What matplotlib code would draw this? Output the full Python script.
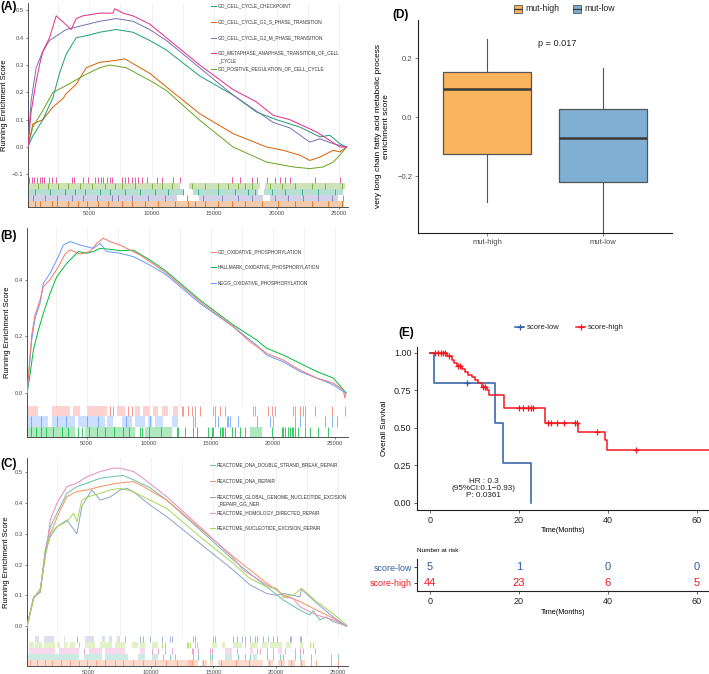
import matplotlib
matplotlib.use("Agg")
import matplotlib.pyplot as plt
from matplotlib.patches import Rectangle
from matplotlib.lines import Line2D

plt.rcParams['font.family'] = ['Liberation Sans', 'DejaVu Sans']

# ------------------------- DATA -------------------------
# Panel A : running enrichment scores (rank, ES)
a_checkpoint_x = [107, 507, 1308, 2109, 2643, 3177, 3978, 5046, 5847, 7182, 8517, 9852, 11187, 13857, 16527, 18396, 19998, 21867, 23469, 24270, 25071, 25605]
a_checkpoint_y = [0.0, 0.04, 0.10, 0.18, 0.27, 0.34, 0.40, 0.41, 0.42, 0.43, 0.42, 0.39, 0.355, 0.26, 0.19, 0.128, 0.10, 0.073, 0.037, 0.043, 0.012, 0.0]
a_g1s_x = [107, 507, 1308, 2109, 2910, 3177, 3978, 4779, 5847, 7182, 7850, 8517, 9852, 11187, 13857, 16527, 19197, 20532, 21867, 22668, 23469, 24537, 25071, 25605]
a_g1s_y = [0.0, 0.085, 0.10, 0.146, 0.177, 0.195, 0.23, 0.29, 0.31, 0.317, 0.323, 0.305, 0.27, 0.22, 0.122, 0.049, 0.0, -0.012, -0.03, -0.049, -0.037, -0.012, -0.018, 0.0]
a_g2m_x = [107, 374, 774, 1308, 1842, 3177, 4512, 5847, 7182, 8517, 9852, 11187, 13857, 16527, 19731, 21066, 22668, 23469, 24537, 25605]
a_g2m_y = [0.0, 0.17, 0.29, 0.35, 0.39, 0.43, 0.445, 0.46, 0.47, 0.46, 0.43, 0.39, 0.29, 0.19, 0.09, 0.07, 0.018, 0.03, 0.012, 0.0]
a_metaphase_x = [107, 374, 774, 1041, 1308, 1842, 2376, 3578, 3978, 4512, 5847, 6916, 7049, 7716, 8517, 9852, 11188, 13858, 16528, 18398, 19733, 21068, 23204, 25073, 25607]
a_metaphase_y = [0.0, 0.13, 0.24, 0.30, 0.35, 0.40, 0.48, 0.43, 0.47, 0.48, 0.49, 0.49, 0.506, 0.49, 0.48, 0.45, 0.40, 0.30, 0.21, 0.165, 0.116, 0.10, 0.055, 0.0, 0.0]
a_positive_x = [107, 507, 1308, 2109, 3177, 4512, 5847, 6648, 7983, 9852, 11187, 13857, 16527, 19197, 21333, 22668, 23736, 24537, 25071, 25605]
a_positive_y = [0.0, 0.073, 0.134, 0.20, 0.225, 0.26, 0.29, 0.30, 0.29, 0.244, 0.207, 0.098, 0.0, -0.055, -0.073, -0.079, -0.073, -0.055, -0.03, 0.0]

# Panel A : hit positions (dense blocks and single hits)
a_metaphase_hits = [200, 413, 600, 813, 1080, 1267, 1427, 1800, 2014, 2360, 3614, 3827, 4547, 4947, 5480, 5747, 5961, 6147, 6414, 6681, 6814, 7614, 7881, 8147, 8414, 8681, 8894, 9214, 9614, 10414, 10814, 11721, 12255, 16414, 17080, 18014, 18414, 19214, 19881, 20281, 20681, 21081, 23081, 25082]
a_positive_spans = [(150, 12300), (13000, 18700), (19100, 25500)]
a_positive_hits = [947, 1747, 2547, 3347, 4280, 5214, 6281, 7081, 7614, 8681, 10014, 10814, 11614, 13213, 14280, 15347, 16147, 16947, 17480, 18014, 19481, 20414, 21481, 22815, 23881, 25215]
a_checkpoint_spans = [(150, 12600), (13300, 18500), (19000, 25300)]
a_checkpoint_hits = [680, 1880, 3080, 3880, 4680, 5881, 6681, 7881, 9081, 10281, 11348, 12548, 13747, 15347, 16681, 17747, 18281, 19614, 20681, 22015, 23348, 24682]
a_g2m_spans = [(150, 12000), (13800, 18900), (19500, 24900)]
a_g2m_hits = [547, 1480, 2414, 3614, 4547, 5614, 6814, 7347, 8414, 9748, 11081, 12800, 14147, 15614, 16947, 18014, 19881, 20948, 22148, 23348, 24415, 25300]
a_g1s_spans = [(150, 25400)]
a_g1s_hits = [147, 680, 1080, 2014, 2414, 3347, 4147, 4814, 5747, 6547, 7614, 8414, 9481, 10548, 11881, 12948, 13480, 14280, 15347, 16414, 17480, 18814, 20148, 21481, 22815, 24148, 25215]

# Panel B : running enrichment scores
b_go_x = [200, 569, 837, 1238, 1507, 2044, 2715, 3251, 3654, 4459, 5264, 5800, 6337, 6874, 7679, 8484, 9289, 10094, 11436, 14119, 16803, 18144, 19485, 20827, 22168, 23510, 24851, 25656, 25790, 25850]
b_go_y = [0.0, 0.205, 0.275, 0.328, 0.375, 0.40, 0.445, 0.49, 0.505, 0.49, 0.499, 0.528, 0.546, 0.534, 0.522, 0.504, 0.487, 0.463, 0.422, 0.322, 0.234, 0.181, 0.14, 0.116, 0.081, 0.053, 0.035, 0.011, -0.018, 0.0]
b_hallmark_x = [200, 450, 703, 1105, 1507, 2044, 2581, 3385, 4324, 4995, 5532, 6069, 6874, 7679, 8753, 10094, 11436, 14119, 16803, 18680, 19485, 20827, 22168, 23510, 24851, 25900]
b_hallmark_y = [0.0, 0.07, 0.152, 0.222, 0.281, 0.351, 0.41, 0.457, 0.499, 0.493, 0.499, 0.51, 0.507, 0.502, 0.504, 0.469, 0.428, 0.328, 0.240, 0.187, 0.158, 0.134, 0.105, 0.076, 0.053, 0.0]
b_kegg_x = [200, 569, 837, 1238, 1507, 2044, 2313, 2715, 3117, 3654, 4459, 4995, 5532, 6069, 6606, 7679, 8753, 10094, 11436, 14119, 16803, 18680, 19485, 20827, 22168, 23510, 24851, 25850]
b_kegg_y = [0.0, 0.187, 0.263, 0.316, 0.387, 0.422, 0.446, 0.481, 0.522, 0.534, 0.522, 0.516, 0.51, 0.528, 0.499, 0.493, 0.481, 0.451, 0.416, 0.316, 0.234, 0.169, 0.134, 0.11, 0.076, 0.053, 0.029, 0.0]

b_go_spans = [(250, 1105), (2180, 3654), (3922, 4459), (4996, 6605), (7410, 8081), (8886, 9288), (9557, 10093), (10362, 10764), (11032, 11569), (11971, 12374)]
b_go_hits = [6900, 7140, 8350, 8620, 12642, 12776, 13180, 13449, 13717, 14120, 15193, 15327, 15729, 16132, 18412, 18546, 19620, 19888, 20156, 21632, 21766, 22168, 22437, 22571, 23376, 24717, 25790]
b_kegg_spans = [(100, 1910), (2178, 4056), (4325, 6471), (6605, 7142), (7813, 8618), (8886, 9691), (9959, 10228), (10496, 11166), (11837, 12374)]
b_kegg_hits = [500, 1300, 2600, 3300, 5000, 5900, 8200, 10100, 13583, 13717, 15327, 15595, 16266, 16400, 16535, 17205, 18680, 19754, 20022, 21766, 22168, 22571, 24180, 24717, 25120]
b_hallmark_spans = [(166, 4056), (4861, 8886), (9691, 11837), (18144, 19083)]
b_hallmark_hits = [500, 900, 1300, 1700, 2300, 3000, 3500, 4325, 4593, 5200, 5800, 6500, 7200, 7900, 8400, 9288, 9422, 10000, 11000, 12240, 12374, 12910, 13583, 13851, 14790, 15059, 15193, 15729, 15863, 15998, 16132, 16668, 16937, 17339, 17742, 19888, 20693, 20827, 20961, 21229, 21363, 21497, 21632, 21766, 22034, 22571, 22973, 23644, 24449]

# Panel C : running enrichment scores
c_dsb_x = [70, 603, 1136, 1536, 1936, 2736, 3270, 4070, 4870, 5937, 7003, 7803, 8603, 9937, 11270, 13938, 16605, 19272, 20605, 21939, 22739, 23006, 23539, 24072, 24606, 25139, 25673]
c_dsb_y = [0.0, 0.095, 0.11, 0.248, 0.323, 0.389, 0.432, 0.454, 0.465, 0.481, 0.487, 0.49, 0.476, 0.45, 0.41, 0.313, 0.215, 0.128, 0.085, 0.052, 0.036, 0.05, 0.02, 0.03, 0.014, 0.008, 0.0]
c_dna_x = [70, 603, 1136, 1536, 1936, 2736, 3270, 4070, 4870, 5937, 7270, 8603, 9403, 11270, 13938, 16605, 19272, 20605, 21939, 23272, 24606, 25673]
c_dna_y = [0.0, 0.09, 0.12, 0.237, 0.302, 0.378, 0.421, 0.438, 0.443, 0.454, 0.465, 0.47, 0.454, 0.41, 0.318, 0.226, 0.14, 0.102, 0.080, 0.052, 0.026, 0.0]
c_ggner_x = [70, 603, 1136, 1536, 1936, 2469, 3270, 4070, 4470, 5270, 5937, 6737, 7537, 8070, 8603, 9937, 11270, 13938, 16605, 17938, 19272, 20072, 20605, 21405, 21939, 22072, 23272, 24606, 25139, 25673]
c_ggner_y = [0.0, 0.09, 0.12, 0.24, 0.291, 0.323, 0.345, 0.30, 0.39, 0.443, 0.41, 0.42, 0.443, 0.448, 0.437, 0.394, 0.356, 0.269, 0.182, 0.134, 0.106, 0.10, 0.106, 0.10, 0.095, 0.12, 0.075, 0.03, 0.015, 0.0]
c_homology_x = [70, 603, 1136, 1536, 1936, 2469, 3270, 4070, 4870, 5937, 7003, 7537, 8603, 9403, 11270, 13938, 16605, 17405, 19272, 20072, 20605, 21405, 21939, 23272, 24606, 25139, 25673]
c_homology_y = [-0.007, 0.095, 0.11, 0.226, 0.345, 0.40, 0.454, 0.465, 0.486, 0.503, 0.514, 0.514, 0.503, 0.48, 0.421, 0.323, 0.221, 0.182, 0.134, 0.12, 0.095, 0.09, 0.063, 0.036, 0.02, 0.01, 0.0]
c_ner_x = [70, 603, 1136, 1536, 1936, 2469, 3270, 3803, 4070, 4470, 5003, 5937, 6737, 7537, 8070, 8603, 9937, 11270, 13938, 16605, 17938, 19272, 20072, 20605, 21405, 22072, 23272, 24606, 25806]
c_ner_y = [0.0, 0.09, 0.12, 0.226, 0.302, 0.323, 0.34, 0.367, 0.34, 0.41, 0.421, 0.432, 0.443, 0.448, 0.443, 0.437, 0.41, 0.383, 0.291, 0.204, 0.155, 0.128, 0.123, 0.095, 0.10, 0.123, 0.08, 0.04, 0.0]

c_ggner_spans = [(736, 1003), (1403, 2203), (3003, 3136), (4736, 5403), (6070, 6337), (6604, 6870), (7270, 7537)]
c_ggner_hits = [4070, 7937, 9137, 9403, 9937, 10870, 11537, 11670, 13403, 13536, 15003, 15136, 16603, 16870, 17270, 17537, 17937, 18337, 18470, 19003, 19403, 19803, 20070, 21137, 21270, 21937, 22070]
c_ner_spans = [(203, 603), (736, 1270), (1403, 2336), (2470, 2736), (3003, 3270), (3536, 3937), (4736, 5537), (5937, 6870), (7137, 7937), (8470, 9004), (9137, 9537), (10070, 10604), (14870, 15270), (15670, 15936), (16603, 17270), (17937, 18470), (18870, 19403), (19537, 20470), (20870, 21270), (21937, 22204)]
c_ner_hits = [4203, 10870, 11137, 12869, 13004, 13136, 13536, 13669, 17537, 22737, 23004]
c_homology_spans = [(203, 2336), (2603, 4203), (5003, 6070), (6337, 7937), (9137, 9537), (15936, 16470), (17937, 18204), (20204, 20470)]
c_homology_hits = [4603, 10070, 10604, 11137, 11670, 13269, 13403, 13803, 14736, 14870, 16870, 18470, 18737, 19270, 19803, 20737, 21537, 21937, 22204, 23137]
c_dsb_spans = [(70, 4203), (4603, 6070), (6337, 8204), (9004, 9537), (10070, 10604), (15936, 16470), (18204, 18470)]
c_dsb_hits = [11004, 11537, 11937, 13403, 13803, 14736, 14870, 17003, 17537, 17937, 19270, 19803, 20337, 20604, 21537, 21937, 22870, 24471, 25004]
c_dna_spans = [(70, 13270), (13003, 13803), (14070, 14470), (14736, 15003), (15403, 19003), (19403, 19803), (20204, 20737), (21004, 21537), (21937, 22337)]
c_dna_hits = [300, 900, 1500, 2100, 2800, 3500, 4200, 4900, 5600, 6300, 7100, 7800, 8600, 9400, 10300, 11200, 12100, 13300, 14200, 15600, 16800, 17900, 19500, 20400, 21200, 22000, 22870, 23270, 24471, 25004]

# Panel D : boxplot statistics
d_groups = ["mut-high", "mut-low"]
d_whislo = [-0.288, -0.40]
d_q1 = [-0.125, -0.22]
d_median = [0.095, -0.071]
d_q3 = [0.153, 0.027]
d_whishi = [0.264, 0.166]
d_pvalue = "p = 0.017"

# Panel E : Kaplan-Meier
e_low_times = [0, 0.9, 14.6, 16.4, 22.7]
e_low_surv = [1.0, 0.8, 0.533, 0.267, 0.0]
e_low_censor = [8.3]
e_high_times = [0, 3.9, 4.9, 5.3, 6.0, 7.1, 7.9, 8.6, 9.5, 10.1, 10.9, 11.6, 12.7, 13.3, 16.6, 25.8, 33.3, 39.3, 39.7, 63.0]
e_high_surv = [1.0, 0.977, 0.955, 0.93, 0.91, 0.89, 0.87, 0.85, 0.84, 0.82, 0.80, 0.77, 0.75, 0.72, 0.634, 0.531, 0.475, 0.42, 0.356, 0.356]
e_high_censor = [1.1, 1.9, 2.4, 2.9, 3.3, 4.3, 6.2, 6.7, 12.0, 12.4, 20.1, 21.0, 22.1, 22.8, 23.2, 26.6, 27.3, 28.5, 30.1, 32.6, 33.0, 37.6, 46.3]
e_risk_times = [0, 20, 40, 60]
e_risk_low = [5, 1, 0, 0]
e_risk_high = [44, 23, 6, 5]
e_hr_text = ["HR : 0.3", "(95%CI:0.1\u22120.93)", "P: 0.0361"]

# ------------------------- FIGURE -------------------------
W, H = 709, 674
fig = plt.figure(figsize=(W / 100, H / 100), dpi=100)


def axes_px(l, t, r, b):
    return fig.add_axes([l / W, 1 - b / H, (r - l) / W, (b - t) / H])


def ftext(x, y, s, **kw):
    fig.text(x / W, 1 - y / H, s, **kw)


def fline(x0, x1, y, **kw):
    fig.add_artist(Line2D([x0 / W, x1 / W], [1 - y / H, 1 - y / H],
                          transform=fig.transFigure, **kw))


def gsea_panel(rect, xlim, ylim, yticks, series, rows, rug_top, legend, leg_x):
    ax = axes_px(*rect)
    ax.set_xlim(xlim)
    ax.set_ylim(ylim)
    for g in range(2500, 26000, 2500):
        ax.plot([g, g], [rug_top, ylim[1]], color='#EBEBEB', lw=0.5, zorder=0)
    for x, y, c in series:
        ax.plot(x, y, color=c, lw=0.7, zorder=3)
    n = len(rows)
    h = (rug_top - ylim[0]) / n
    for i, (spans, hits, c) in enumerate(rows):
        y0 = rug_top - (i + 1) * h
        for s, e in spans:
            ax.add_patch(Rectangle((s, y0), e - s, h, facecolor=c, alpha=0.32, lw=0))
        ax.vlines(hits, y0, y0 + h, colors=c, lw=0.6, alpha=0.9)
    for sp in ['top', 'right']:
        ax.spines[sp].set_visible(False)
    for sp in ['left', 'bottom']:
        ax.spines[sp].set_color('#333333')
        ax.spines[sp].set_linewidth(0.6)
    ax.set_xticks([5000, 10000, 15000, 20000, 25000])
    ax.set_yticks(yticks)
    ax.set_yticklabels(["%.1f" % v if v >= 0 else "\u2212%.1f" % (-v) for v in yticks])
    ax.tick_params(labelsize=4.2, colors='#4D4D4D', length=1.5, width=0.5, pad=1.5)
    ax.set_ylabel("Running Enrichment Score", fontsize=5.5, labelpad=3)
    for text, c, y in legend:
        if c is not None:
            fline(leg_x - 7, leg_x - 2, y, color=c, lw=0.7)
        ftext(leg_x, y, text, fontsize=3.4, color='#333333', va='center', ha='left')
    return ax


# Panel A
teal_a, orange_a, purple_a, pink_a, green_a = '#1B9E77', '#D95F02', '#7570B3', '#E7298A', '#66A61E'
gsea_panel((28, 3, 348, 207), (120, 25720), (-0.2195, 0.527),
           [-0.1, 0.0, 0.1, 0.2, 0.3, 0.4, 0.5],
           [(a_g1s_x, a_g1s_y, orange_a), (a_positive_x, a_positive_y, green_a),
            (a_checkpoint_x, a_checkpoint_y, teal_a), (a_g2m_x, a_g2m_y, purple_a),
            (a_metaphase_x, a_metaphase_y, pink_a)],
           [([], a_metaphase_hits, pink_a), (a_positive_spans, a_positive_hits, green_a),
            (a_checkpoint_spans, a_checkpoint_hits, teal_a), (a_g2m_spans, a_g2m_hits, purple_a),
            (a_g1s_spans, a_g1s_hits, orange_a)],
           -0.11,
           [("GO_CELL_CYCLE_CHECKPOINT", teal_a, 5.5),
            ("GO_CELL_CYCLE_G1_S_PHASE_TRANSITION", orange_a, 21.7),
            ("GO_CELL_CYCLE_G2_M_PHASE_TRANSITION", purple_a, 37.7),
            ("GO_METAPHASE_ANAPHASE_TRANSITION_OF_CELL", pink_a, 53.3),
            ("_CYCLE", None, 60.7),
            ("GO_POSITIVE_REGULATION_OF_CELL_CYCLE", green_a, 69)], 218)
ftext(0, 7, "(A)", fontsize=8.5, fontweight='bold', va='center')

# Panel B
red_b, green_b, blue_b = '#F8766D', '#00BA38', '#619CFF'
gsea_panel((27, 228, 348, 437), (190, 26040), (-0.155, 0.582),
           [0.0, 0.2, 0.4],
           [(b_hallmark_x, b_hallmark_y, green_b), (b_kegg_x, b_kegg_y, blue_b),
            (b_go_x, b_go_y, red_b)],
           [(b_go_spans, b_go_hits, red_b), (b_kegg_spans, b_kegg_hits, blue_b),
            (b_hallmark_spans, b_hallmark_hits, green_b)],
           -0.046,
           [("GO_OXIDATIVE_PHOSPHORYLATION", red_b, 252),
            ("HALLMARK_OXIDATIVE_PHOSPHORYLATION", green_b, 267),
            ("KEGG_OXIDATIVE_PHOSPHORYLATION", blue_b, 283)], 218)
ftext(0, 236, "(B)", fontsize=8.5, fontweight='bold', va='center')

# Panel C
teal_c, orange_c, blue_c, pink_c, green_c = '#66C2A5', '#FC8D62', '#8DA0CB', '#E78AC3', '#A6D854'
gsea_panel((27, 458, 348, 666), (70, 25800), (-0.130, 0.547),
           [0.0, 0.1, 0.2, 0.3, 0.4, 0.5],
           [(c_dsb_x, c_dsb_y, teal_c), (c_dna_x, c_dna_y, orange_c),
            (c_ggner_x, c_ggner_y, blue_c), (c_homology_x, c_homology_y, pink_c),
            (c_ner_x, c_ner_y, green_c)],
           [(c_ggner_spans, c_ggner_hits, blue_c), (c_ner_spans, c_ner_hits, green_c),
            (c_homology_spans, c_homology_hits, pink_c), (c_dsb_spans, c_dsb_hits, teal_c),
            (c_dna_spans, c_dna_hits, orange_c)],
           -0.0326,
           [("REACTOME_DNA_DOUBLE_STRAND_BREAK_REPAIR", teal_c, 465),
            ("REACTOME_DNA_REPAIR", orange_c, 481),
            ("REACTOME_GLOBAL_GENOME_NUCLEOTIDE_EXCISION", blue_c, 497),
            ("_REPAIR_GG_NER", None, 504),
            ("REACTOME_HOMOLOGY_DIRECTED_REPAIR", pink_c, 512.5),
            ("REACTOME_NUCLEOTIDE_EXCISION_REPAIR", green_c, 528)], 217)
ftext(0, 464, "(C)", fontsize=8.5, fontweight='bold', va='center')

# Panel D
box_colors = ['#FBB45E', '#7FB0D3']
axD = axes_px(418, 20, 672, 233)
stats = []
for i, g in enumerate(d_groups):
    stats.append(dict(label=g, whislo=d_whislo[i], q1=d_q1[i], med=d_median[i],
                      q3=d_q3[i], whishi=d_whishi[i], fliers=[]))
bp = axD.bxp(stats, positions=[1, 2], widths=0.76, patch_artist=True, showcaps=False,
             boxprops=dict(edgecolor='#555555', linewidth=0.9),
             medianprops=dict(color='#3A3A3A', linewidth=1.8),
             whiskerprops=dict(color='#555555', linewidth=0.8))
for patch, c in zip(bp['boxes'], box_colors):
    patch.set_facecolor(c)
axD.set_xlim(0.4, 2.6)
axD.set_ylim(-0.393, 0.329)
axD.set_yticks([-0.2, 0.0, 0.2])
axD.set_yticklabels(["\u22120.2", "0.0", "0.2"])
axD.set_xticks([1, 2])
axD.set_xticklabels(d_groups)
axD.tick_params(labelsize=5.5, colors='#4D4D4D', length=2, width=0.5, pad=2)
for sp in ['top', 'right']:
    axD.spines[sp].set_visible(False)
for sp in ['left', 'bottom']:
    axD.spines[sp].set_linewidth(0.8)
    axD.spines[sp].set_color('#222222')
axD.set_ylabel("very long chain fatty acid metabolic process\nenrichment score", fontsize=6.0, labelpad=5)
axD.text(1.61, 0.25, d_pvalue, fontsize=6.6, ha='center', va='center', color='#222222')
ftext(392, 15, "(D)", fontsize=8.5, fontweight='bold', va='center')
# legend D
for xi, c, name in [(518, box_colors[0], d_groups[0]), (577, box_colors[1], d_groups[1])]:
    fig.add_artist(Rectangle(((xi - 4) / W, 1 - 12.5 / H), 8 / W, 8 / H, transform=fig.transFigure,
                             facecolor=c, edgecolor='#555555', lw=0.6))
    fline(xi - 4, xi + 4, 8.5, color='#3A3A3A', lw=0.9)
    fline(xi, xi, 3, color='#555555', lw=0.5)
    fline(xi, xi, 14.5, color='#555555', lw=0.5)
    ftext(xi + 7, 8.5, name, fontsize=6.3, va='center', ha='left', color='#222222')

# Panel E
blue_e, red_e = '#2C5DA5', '#F2181E'
axE = axes_px(417, 347, 709, 510)
axE.step(e_low_times, e_low_surv, where='post', color=blue_e, lw=1.1)
axE.step(e_high_times, e_high_surv, where='post', color=red_e, lw=1.1)


def surv_at(times, surv, t):
    v = surv[0]
    for ti, si in zip(times, surv):
        if ti <= t:
            v = si
    return v


axE.plot(e_low_censor, [surv_at(e_low_times, e_low_surv, t) for t in e_low_censor],
         ls='none', marker='+', ms=4.5, mew=0.9, color=blue_e)
axE.plot(e_high_censor, [surv_at(e_high_times, e_high_surv, t) for t in e_high_censor],
         ls='none', marker='+', ms=4.5, mew=0.9, color=red_e)
axE.set_xlim(-2.92, 62.7)
axE.set_ylim(-0.047, 1.04)
axE.set_yticks([0, 0.25, 0.5, 0.75, 1.0])
axE.set_yticklabels(["0.00", "0.25", "0.50", "0.75", "1.00"])
axE.set_xticks(e_risk_times)
axE.tick_params(labelsize=6.5, colors='#222222', length=2, width=0.5, pad=2)
for sp in ['top', 'right']:
    axE.spines[sp].set_visible(False)
for sp in ['left', 'bottom']:
    axE.spines[sp].set_linewidth(0.8)
    axE.spines[sp].set_color('#222222')
axE.set_ylabel("Overall Survival", fontsize=5.7, labelpad=4)
for txt, yv in zip(e_hr_text, [0.14, 0.096, 0.051]):
    axE.text(12.0, yv, txt, fontsize=5.9, ha='center', va='center', color='#222222')
ftext(563, 530, "Time(Months)", fontsize=5.2, ha='center', va='center')
ftext(398, 333, "(E)", fontsize=8.5, fontweight='bold', va='center')
# legend E
for x0, c, name in [(515, blue_e, "score-low"), (576, red_e, "score-high")]:
    fline(x0, x0 + 9, 327, color=c, lw=1.1)
    fig.add_artist(Line2D([(x0 + 4.5) / W], [1 - 327 / H], transform=fig.transFigure,
                          marker='+', ms=4, mew=0.9, color=c, ls='none'))
    ftext(x0 + 12, 327.5, name, fontsize=5.5, va='center', ha='left', color='#222222')

# Risk table
axT = axes_px(417, 559, 709, 591)
axT.set_xlim(-2.92, 62.7)
axT.set_ylim(0.45, 2.55)
for t, nl, nh in zip(e_risk_times, e_risk_low, e_risk_high):
    axT.text(t, 2, str(nl), color=blue_e, fontsize=8, ha='center', va='center')
    axT.text(t, 1, str(nh), color=red_e, fontsize=8, ha='center', va='center')
axT.set_yticks([2, 1])
axT.set_yticklabels(["score-low", "score-high"])
for lab, c in zip(axT.get_yticklabels(), [blue_e, red_e]):
    lab.set_color(c)
axT.set_xticks(e_risk_times)
axT.tick_params(axis='y', labelsize=6.4, length=2, width=0.5, pad=1.5)
axT.tick_params(axis='x', labelsize=6.5, colors='#222222', length=2, width=0.5, pad=2)
for sp in ['top', 'right']:
    axT.spines[sp].set_visible(False)
for sp in ['left', 'bottom']:
    axT.spines[sp].set_linewidth(0.8)
    axT.spines[sp].set_color('#222222')
ftext(417, 550, "Number at risk", fontsize=4.6, va='center', ha='left')
ftext(563, 613, "Time(Months)", fontsize=5.2, ha='center', va='center')

fig.savefig("out.png", dpi=100)
